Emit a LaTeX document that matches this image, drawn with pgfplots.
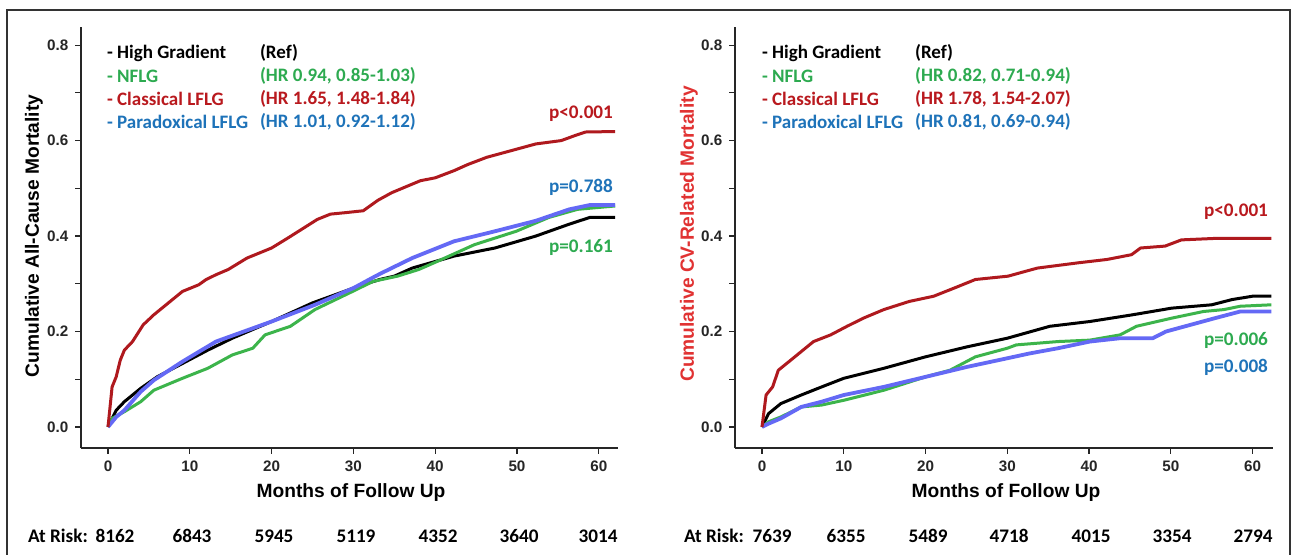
\documentclass[border=0pt]{standalone}
\usepackage{pgfplots}
\pgfplotsset{compat=1.18}
\usepackage{fontspec}
\setmainfont{Liberation Sans}
\newfontfamily\carl{Carlito}
\definecolor{cred}{RGB}{175,25,30}
\definecolor{cgreen}{RGB}{60,180,75}
\definecolor{cblue}{RGB}{100,105,245}
\definecolor{tgreen}{RGB}{45,170,80}
\definecolor{tblue}{RGB}{30,115,185}
\definecolor{tred}{RGB}{185,25,30}
\definecolor{lred}{RGB}{225,50,50}
\pgfplotsset{km/.style={
  scale only axis, height=210.5pt,
  ymin=-0.044, ymax=0.838,
  axis lines=left, axis line style={-, line width=1.2pt, black!85},
  xtick={0,10,20,30,40,50,60},
  ytick={0,0.2,0.4,0.6,0.8}, minor ytick={0.1,0.3,0.5,0.7},
  tick align=outside, major tick length=2.8pt, minor tick length=2.8pt,
  tick style={black!85, line width=0.6pt},
  tick label style={font=\bfseries\fontsize{7.6}{8.5}\selectfont, text=black!85},
  yticklabel style={/pgf/number format/fixed, /pgf/number format/fixed zerofill, /pgf/number format/precision=1},
  /pgf/number format/assume math mode=true,
  anchor=south west, line join=round,
  every axis plot/.append style={line width=1.5pt, line join=round}
}}
\newcommand{\lgf}{\carl\bfseries\fontsize{9.5}{11}\selectfont}
\newcommand{\rkf}{\carl\bfseries\fontsize{9.6}{11}\selectfont}
\newcommand{\lbf}{\bfseries\fontsize{9.6}{11}\selectfont}
\begin{document}
\begin{tikzpicture}
\begin{scope}[x=0.5pt,y=-0.5pt]
\useasboundingbox (0,0) rectangle (1293,555);
\fill[white] (0,0) rectangle (1293,555);
\draw[line width=1pt, black!80] (7,562) -- (7,10) -- (1290,10) -- (1290,562);
\end{scope}

% ---------------- left panel ----------------
\begin{axis}[km, at={(40.5pt,-224pt)}, width=268.5pt, xmin=-3.3, xmax=62.35]
\addplot[black] coordinates {(0,0) (1,0.035) (2,0.053) (4,0.081) (6,0.105) (9.1,0.133) (12.2,0.161) (15.2,0.186) (20,0.221) (25,0.26) (30,0.291) (33.2,0.309) (35,0.316) (37.2,0.333) (42.3,0.358) (47.3,0.375) (52.3,0.4) (56.4,0.425) (58.9,0.439) (62,0.439)};
\addplot[cgreen] coordinates {(0,0) (0.5,0.018) (2,0.032) (4,0.053) (5.6,0.077) (9.1,0.102) (12.2,0.123) (15.2,0.151) (17.7,0.165) (19.2,0.193) (22.3,0.211) (25.3,0.246) (29.9,0.284) (32.4,0.305) (35.4,0.316) (38,0.33) (40,0.345) (44.8,0.382) (49.9,0.41) (53.9,0.439) (57.4,0.456) (62,0.463)};
\addplot[cblue, line width=1.9pt] coordinates {(0,0) (1,0.021) (2,0.035) (4,0.074) (5.6,0.098) (9.1,0.137) (13.2,0.179) (20,0.221) (25.3,0.256) (30,0.291) (32.7,0.316) (33.5,0.323) (37.2,0.354) (42.3,0.389) (47.3,0.41) (52.3,0.432) (56.4,0.456) (58.9,0.465) (62,0.465)};
\addplot[cred] coordinates {(0,0) (0.3,0.05) (0.5,0.084) (1,0.105) (1.5,0.14) (2,0.161) (3,0.179) (4.3,0.214) (5.6,0.235) (7.1,0.256) (9.1,0.284) (11.1,0.298) (12,0.309) (13.2,0.319) (14.7,0.33) (17,0.354) (20,0.375) (22,0.396) (25.6,0.435) (27.2,0.446) (29,0.449) (31.2,0.453) (33,0.475) (34.7,0.491) (38.2,0.516) (40,0.522) (42.3,0.537) (44,0.55) (46.3,0.565) (49.3,0.579) (52.3,0.593) (55.4,0.6) (57,0.61) (58.4,0.618) (62,0.619)};
\end{axis}

% ---------------- right panel ----------------
\begin{axis}[km, at={(367.5pt,-224pt)}, width=269pt, xmin=-3.3, xmax=62.5]
\addplot[black] coordinates {(0,0) (0.8,0.028) (2.3,0.049) (4.8,0.067) (7.3,0.084) (10,0.102) (14.9,0.123) (20,0.147) (25.1,0.168) (30,0.186) (35.2,0.211) (40.1,0.221) (45.3,0.235) (50.1,0.249) (55,0.256) (57.5,0.267) (60,0.274) (62.3,0.274)};
\addplot[cgreen] coordinates {(0,0) (0.8,0.011) (2.3,0.021) (4.8,0.042) (7.3,0.046) (10,0.056) (14.9,0.077) (20,0.105) (23,0.119) (26.1,0.147) (30,0.165) (31.1,0.172) (36.2,0.179) (40.1,0.182) (43.8,0.193) (45.8,0.211) (50.1,0.228) (54,0.242) (56.5,0.246) (58.5,0.253) (62.3,0.256)};
\addplot[cblue, line width=1.9pt] coordinates {(0,0) (0.8,0.007) (2.3,0.018) (4.8,0.042) (7.3,0.053) (10,0.067) (14.9,0.084) (20,0.105) (25.1,0.126) (30,0.144) (32.7,0.154) (36.2,0.165) (40.1,0.179) (43.8,0.186) (47.8,0.186) (49.4,0.2) (52.4,0.214) (55.4,0.228) (58.5,0.242) (62.3,0.242)};
\addplot[cred] coordinates {(0,0) (0.5,0.067) (1.3,0.084) (2,0.119) (3.3,0.137) (4.8,0.158) (6.3,0.179) (8.4,0.193) (10.4,0.211) (12.4,0.228) (14.9,0.246) (18,0.263) (21,0.274) (23.5,0.291) (26.1,0.309) (30.1,0.316) (32.2,0.326) (33.7,0.333) (38.7,0.344) (42.2,0.351) (45.2,0.361) (46.3,0.375) (49.3,0.379) (51.3,0.392) (55.3,0.395) (62.3,0.395)};
\end{axis}

\begin{scope}[x=0.5pt,y=-0.5pt]
% axis titles
\node[rotate=90, font=\lbf] at (34,236) {Cumulative All-Cause Mortality};
\node[rotate=90, font=\lbf, text=lred] at (689,234) {Cumulative CV-Related Mortality};
\node[font=\lbf] at (351,493) {Months of Follow Up};
\node[font=\lbf] at (1006,493) {Months of Follow Up};
% legends left
\node[anchor=west, font=\lgf, text=black] at (100,53) {- High Gradient};
\node[anchor=west, font=\lgf, text=black] at (253,53) {(Ref)};
\node[anchor=west, font=\lgf, text=tgreen] at (100,76) {- NFLG};
\node[anchor=west, font=\lgf, text=tgreen] at (253,76) {(HR 0.94, 0.85-1.03)};
\node[anchor=west, font=\lgf, text=tred] at (100,99) {- Classical LFLG};
\node[anchor=west, font=\lgf, text=tred] at (253,99) {(HR 1.65, 1.48-1.84)};
\node[anchor=west, font=\lgf, text=tblue] at (100,122) {- Paradoxical LFLG};
\node[anchor=west, font=\lgf, text=tblue] at (253,122) {(HR 1.01, 0.92-1.12)};
% legends right
\node[anchor=west, font=\lgf, text=black] at (755,53) {- High Gradient};
\node[anchor=west, font=\lgf, text=black] at (908,53) {(Ref)};
\node[anchor=west, font=\lgf, text=tgreen] at (755,76) {- NFLG};
\node[anchor=west, font=\lgf, text=tgreen] at (908,76) {(HR 0.82, 0.71-0.94)};
\node[anchor=west, font=\lgf, text=tred] at (755,99) {- Classical LFLG};
\node[anchor=west, font=\lgf, text=tred] at (908,99) {(HR 1.78, 1.54-2.07)};
\node[anchor=west, font=\lgf, text=tblue] at (755,122) {- Paradoxical LFLG};
\node[anchor=west, font=\lgf, text=tblue] at (908,122) {(HR 0.81, 0.69-0.94)};
% p values
\node[anchor=east, font=\rkf, text=tred] at (620,114) {p<0.001};
\node[anchor=east, font=\rkf, text=tblue] at (620,187) {p=0.788};
\node[anchor=east, font=\rkf, text=tgreen] at (620,247) {p=0.161};
\node[anchor=east, font=\rkf, text=tred] at (1275,212) {p<0.001};
\node[anchor=east, font=\rkf, text=tgreen] at (1275,340) {p=0.006};
\node[anchor=east, font=\rkf, text=tblue] at (1275,367) {p=0.008};
% at risk
\node[anchor=west, font=\rkf] at (21,536) {At Risk:};
\node[font=\rkf] at (115,536) {8162};
\node[font=\rkf] at (192,536) {6843};
\node[font=\rkf] at (274,536) {5945};
\node[font=\rkf] at (356,536) {5119};
\node[font=\rkf] at (438,536) {4352};
\node[font=\rkf] at (519,536) {3640};
\node[font=\rkf] at (598,536) {3014};
\node[anchor=west, font=\rkf] at (677,536) {At Risk:};
\node[font=\rkf] at (772,536) {7639};
\node[font=\rkf] at (846,536) {6355};
\node[font=\rkf] at (928,536) {5489};
\node[font=\rkf] at (1009,536) {4718};
\node[font=\rkf] at (1091,536) {4015};
\node[font=\rkf] at (1172,536) {3354};
\node[font=\rkf] at (1253,536) {2794};
\end{scope}
\end{tikzpicture}
\end{document}
